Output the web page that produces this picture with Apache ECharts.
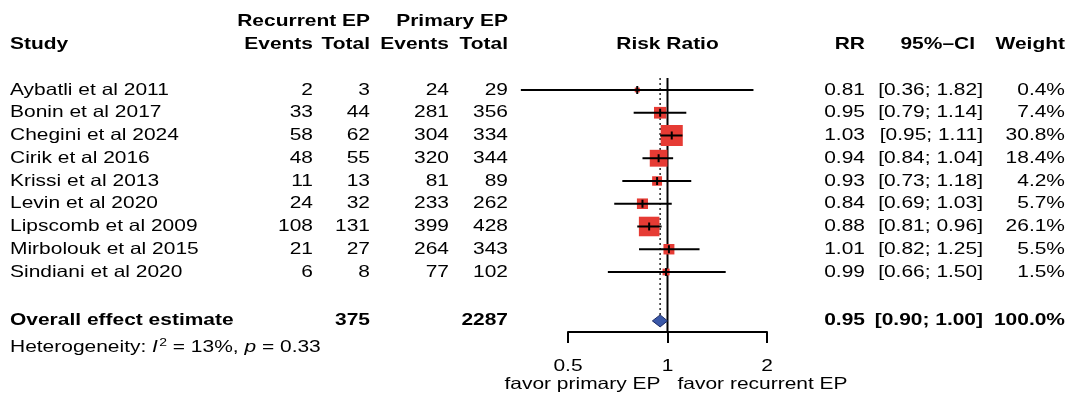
<!DOCTYPE html>
<html><head><meta charset="utf-8">
<script src="https://cdn.jsdelivr.net/npm/echarts@6/dist/echarts.min.js"></script>
<style>html,body{margin:0;padding:0;background:#fff;}#c{width:1068px;height:401px;}</style>
</head><body><div id="c"></div>
<script>
// ---------- data ----------
const studies = ['Aybatli et al 2011','Bonin et al 2017','Chegini et al 2024','Cirik et al 2016','Krissi et al 2013','Levin et al 2020','Lipscomb et al 2009','Mirbolouk et al 2015','Sindiani et al 2020'];
const recEvents = [2,33,58,48,11,24,108,21,6];
const recTotal  = [3,44,62,55,13,32,131,27,8];
const priEvents = [24,281,304,320,81,233,399,264,77];
const priTotal  = [29,356,334,344,89,262,428,343,102];
const rr     = [0.81,0.95,1.03,0.94,0.93,0.84,0.88,1.01,0.99];
const ciLow  = [0.36,0.79,0.95,0.84,0.73,0.69,0.81,0.82,0.66];
const ciHigh = [1.82,1.14,1.11,1.04,1.18,1.03,0.96,1.25,1.50];
const weight = [0.4,7.4,30.8,18.4,4.2,5.7,26.1,5.5,1.5];
const overallLabel = 'Overall effect estimate';
const overallRecTotal = 375;
const overallPriTotal = 2287;
const overallRR = 0.95, overallLow = 0.90, overallHigh = 1.00, overallWeight = 100.0;
const hetI2 = 13, hetP = 0.33;
const tickValues = [0.5, 1, 2];
const tickLabels = ['0.5', '1', '2'];
const favorLeft = 'favor primary EP';
const favorRight = 'favor recurrent EP';
const headerTop = ['Recurrent EP', 'Primary EP'];
const headerCols = ['Study','Events','Total','Events','Total','Risk Ratio','RR','95%\u2013CI','Weight'];

// ---------- layout ----------
const FONT = '"Liberation Sans", Arial, Helvetica, sans-serif';
const FS = 16.5, SX = 1.27;
const RED = '#e63b34';
const Y_MIN = -0.527, Y_MAX = 10.638;
const ROW_OVERALL = 10.15, ROW_HET = 11.3, ROW_H1 = -3, ROW_H2 = -2;
const X_STUDY = 10, X_RE = 313, X_RT = 370, X_PE = 449, X_PT = 508, X_RR = 865, X_CI = 983, X_W = 1065;

function txt(x, y, s, align, bold, extra) {
  const st = {text: s, fill: '#000', font: (bold ? 'bold ' : '') + FS + 'px ' + FONT,
    align: align, textAlign: align, verticalAlign: 'middle', textVerticalAlign: 'middle'};
  if (extra) Object.assign(st, extra);
  return {type: 'text', x: x, y: y, scaleX: SX, style: st};
}
const f2 = v => v.toFixed(2);
const ciStr = (a, b) => '[' + f2(a) + '; ' + f2(b) + ']';

const chart = echarts.init(document.getElementById('c'), null, {renderer: 'canvas'});
chart.setOption({
  backgroundColor: '#fff',
  animation: false,
  grid: {left: 568, right: 301, top: 78, bottom: 69, containLabel: false},
  xAxis: {type: 'log', logBase: 2, min: 0.5, max: 2, splitNumber: 2, position: 'bottom',
    axisLine: {show: true, onZero: false, lineStyle: {color: '#000', width: 2}},
    axisTick: {show: true, length: 11, lineStyle: {color: '#000', width: 2}},
    axisLabel: {show: false}, splitLine: {show: false}},
  yAxis: {type: 'value', inverse: true, min: Y_MIN, max: Y_MAX, show: false},
  series: [
    { // reference lines
      type: 'custom', clip: false, silent: true, z: 1,
      data: [[overallRR, ROW_OVERALL]],
      renderItem(p, api) {
        const top1 = api.coord([1, Y_MIN]), bot1 = api.coord([1, Y_MAX]);
        const topE = api.coord([api.value(0), Y_MIN]), botE = api.coord([api.value(0), api.value(1)]);
        return {type: 'group', children: [
          {type: 'line', shape: {x1: topE[0], y1: topE[1], x2: botE[0], y2: botE[1] - 6}, style: {stroke: '#333', lineWidth: 1.6, lineDash: [2, 3]}},
          {type: 'line', shape: {x1: top1[0], y1: top1[1], x2: bot1[0], y2: bot1[1]}, style: {stroke: '#000', lineWidth: 2}}
        ]};
      }
    },
    { // study squares + CIs
      type: 'custom', clip: false, silent: true, z: 3,
      data: studies.map((s, i) => [rr[i], i, ciLow[i], ciHigh[i], weight[i]]),
      renderItem(p, api) {
        const y = api.value(1);
        const c = api.coord([api.value(0), y]);
        const lo = api.coord([api.value(2), y]);
        const hi = api.coord([api.value(3), y]);
        const h = 2.7 + 3.3 * Math.sqrt(api.value(4));
        const w = h * 1.05;
        return {type: 'group', children: [
          {type: 'rect', shape: {x: c[0] - w / 2, y: c[1] - h / 2, width: w, height: h}, style: {fill: RED}},
          {type: 'line', shape: {x1: lo[0], y1: c[1], x2: hi[0], y2: c[1]}, style: {stroke: '#000', lineWidth: 2}},
          {type: 'line', shape: {x1: c[0], y1: c[1] - 4, x2: c[0], y2: c[1] + 4}, style: {stroke: '#000', lineWidth: 2}}
        ]};
      }
    },
    { // overall diamond
      type: 'custom', clip: false, silent: true, z: 4,
      data: [[overallRR, ROW_OVERALL, overallLow, overallHigh]],
      renderItem(p, api) {
        const y = api.value(1);
        const c = api.coord([api.value(0), y]);
        const lo = api.coord([api.value(2), y]);
        const hi = api.coord([api.value(3), y]);
        return {type: 'polygon', shape: {points: [[lo[0], c[1]], [c[0], c[1] - 6], [hi[0], c[1]], [c[0], c[1] + 6]]},
          style: {fill: '#3a58a8', stroke: '#1c2a66', lineWidth: 1}};
      }
    },
    { // tick labels and favor labels
      type: 'custom', clip: false, silent: true, z: 5,
      data: tickValues.map((v, i) => [v, Y_MAX, i]),
      renderItem(p, api) {
        const i = api.value(2);
        const pt = api.coord([api.value(0), api.value(1)]);
        const kids = [txt(pt[0], pt[1] + 34, tickLabels[i], 'center', false)];
        if (tickValues[i] === 1) {
          kids.push(txt(pt[0] - 7, pt[1] + 52, favorLeft, 'right', false));
          kids.push(txt(pt[0] + 10, pt[1] + 52, favorRight, 'left', false));
        }
        return {type: 'group', children: kids};
      }
    },
    { // table text
      type: 'custom', clip: false, silent: true, z: 5,
      data: [[1, 0]],
      renderItem(p, api) {
        const ry = r => api.coord([1, r])[1];
        const kids = [];
        const h1 = ry(ROW_H1), h2 = ry(ROW_H2);
        kids.push(txt(X_RT, h1, headerTop[0], 'right', true));
        kids.push(txt(X_PT, h1, headerTop[1], 'right', true));
        kids.push(txt(X_STUDY, h2, headerCols[0], 'left', true));
        kids.push(txt(X_RE, h2, headerCols[1], 'right', true));
        kids.push(txt(X_RT, h2, headerCols[2], 'right', true));
        kids.push(txt(X_PE, h2, headerCols[3], 'right', true));
        kids.push(txt(X_PT, h2, headerCols[4], 'right', true));
        kids.push(txt(api.coord([1, 0])[0], h2, headerCols[5], 'center', true));
        kids.push(txt(X_RR, h2, headerCols[6], 'right', true));
        kids.push(txt(975, h2, headerCols[7], 'right', true));
        kids.push(txt(X_W, h2, headerCols[8], 'right', true));
        studies.forEach((s, i) => {
          const y = ry(i);
          kids.push(txt(X_STUDY, y, s, 'left', false));
          kids.push(txt(X_RE, y, String(recEvents[i]), 'right', false));
          kids.push(txt(X_RT, y, String(recTotal[i]), 'right', false));
          kids.push(txt(X_PE, y, String(priEvents[i]), 'right', false));
          kids.push(txt(X_PT, y, String(priTotal[i]), 'right', false));
          kids.push(txt(X_RR, y, f2(rr[i]), 'right', false));
          kids.push(txt(X_CI, y, ciStr(ciLow[i], ciHigh[i]), 'right', false));
          kids.push(txt(X_W, y, weight[i].toFixed(1) + '%', 'right', false));
        });
        const yo = ry(ROW_OVERALL);
        kids.push(txt(X_STUDY, yo, overallLabel, 'left', true));
        kids.push(txt(X_RT, yo, String(overallRecTotal), 'right', true));
        kids.push(txt(X_PT, yo, String(overallPriTotal), 'right', true));
        kids.push(txt(X_RR, yo, f2(overallRR), 'right', true));
        kids.push(txt(X_CI, yo, ciStr(overallLow, overallHigh), 'right', true));
        kids.push(txt(X_W, yo, overallWeight.toFixed(1) + '%', 'right', true));
        const yh = ry(ROW_HET);
        const base = {fontSize: FS, fontFamily: FONT, color: '#000'};
        kids.push(txt(X_STUDY, yh, '{n|Heterogeneity: }{i|I}{s|2}{n| = ' + hetI2 + '%, }{i|p}{n| = ' + f2(hetP) + '}', 'left', false,
          {rich: {n: Object.assign({}, base), i: Object.assign({fontStyle: 'italic'}, base),
                  s: Object.assign({}, base, {fontSize: 11, padding: [0, 0, 9, 1]})}}));
        return {type: 'group', children: kids};
      }
    }
  ]
});
</script>
</body></html>
